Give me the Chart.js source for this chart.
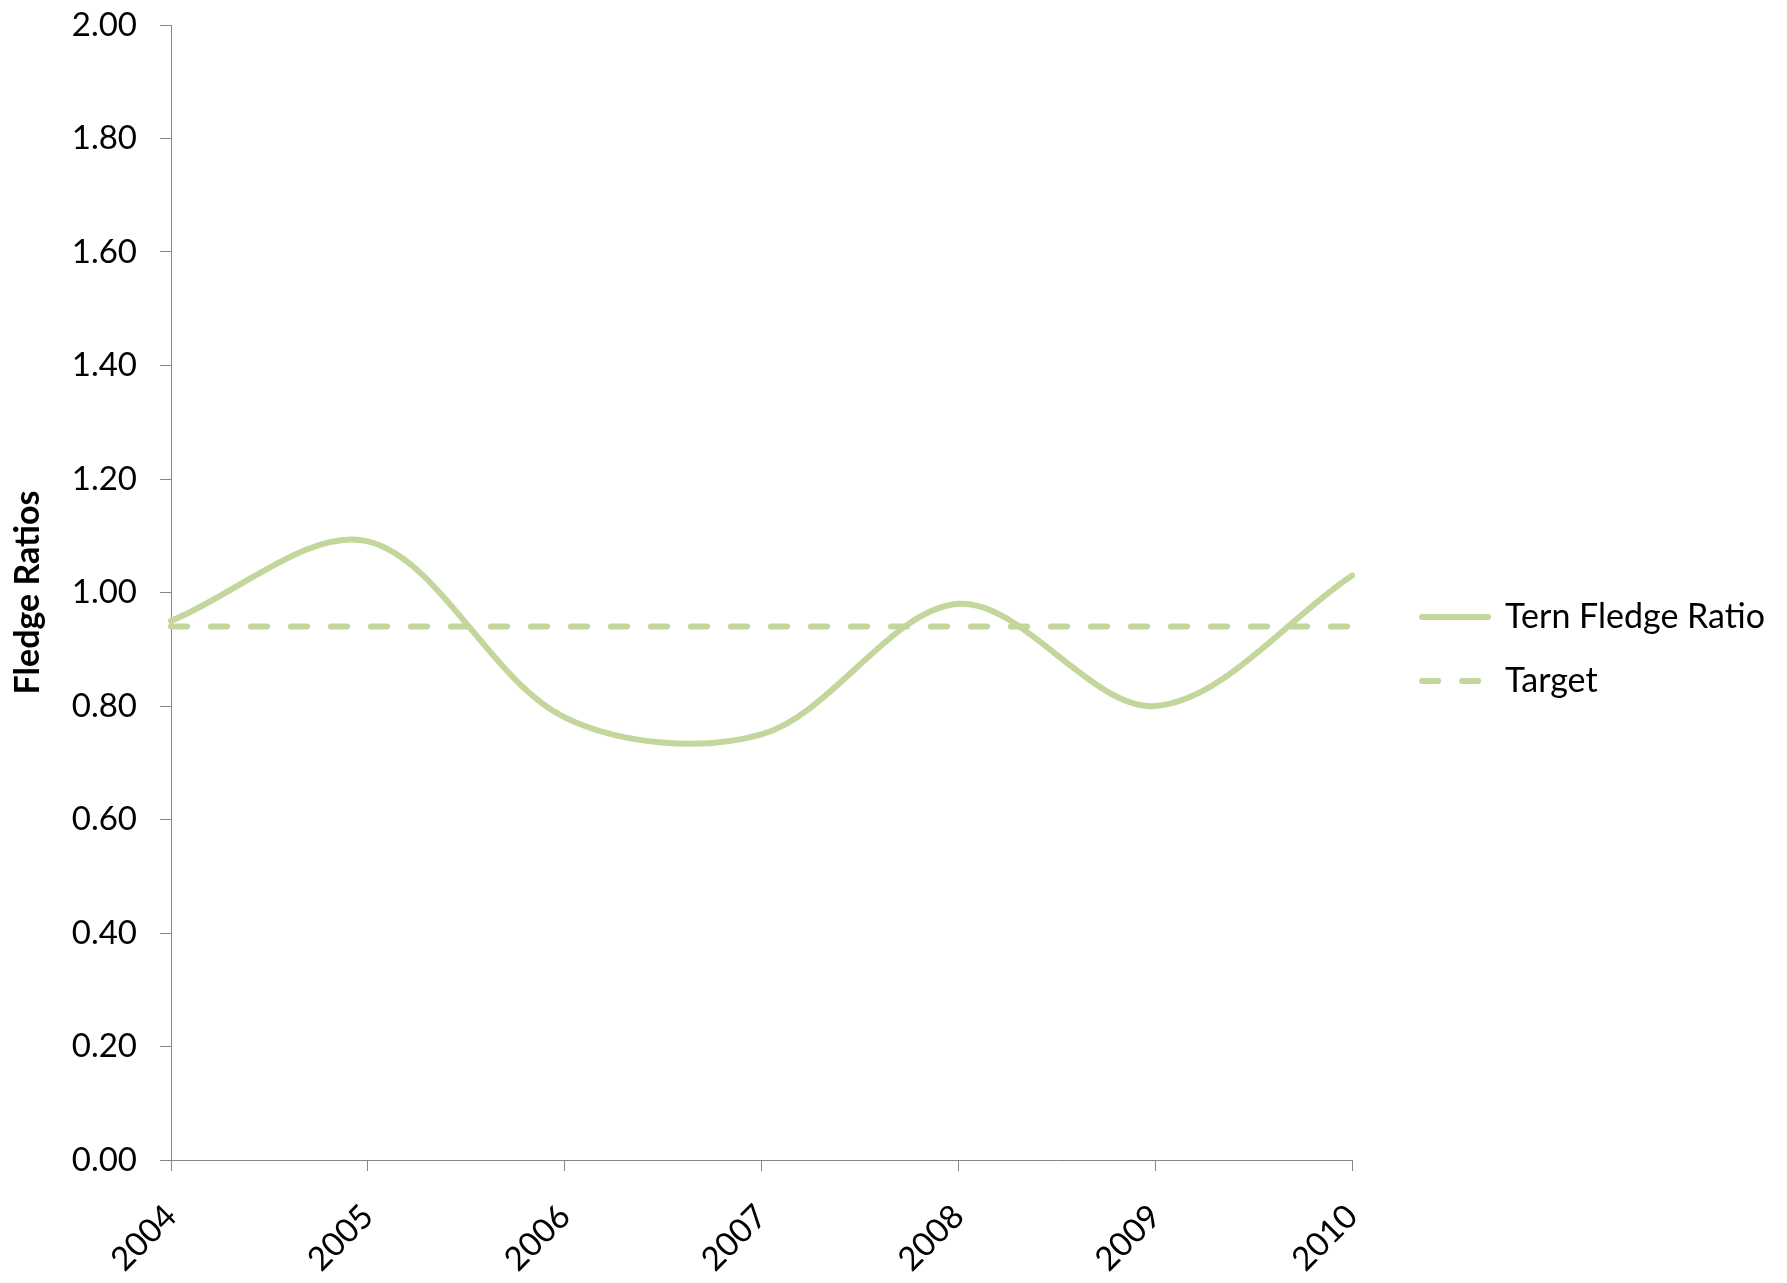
<!DOCTYPE html>
<html>
<head>
<meta charset="utf-8">
<title>Fledge Ratios</title>
<script src="https://cdn.jsdelivr.net/npm/chart.js@4"></script>
<style>
  html, body { margin: 0; padding: 0; background: #fff; }
  #wrap { width: 1787px; height: 1283px; }
</style>
</head>
<body>
<div id="wrap"><canvas id="fledgeChart"></canvas></div>
<script>
const years = ['2004', '2005', '2006', '2007', '2008', '2009', '2010'];
const ternFledgeRatio = [0.95, 1.09, 0.78, 0.75, 0.98, 0.80, 1.03];
const target = [0.94, 0.94, 0.94, 0.94, 0.94, 0.94, 0.94];

const green = '#c3d69b';
const axisGrey = '#868686';
const fontFamily = 'Lato, "Open Sans", sans-serif';

Chart.defaults.font.family = fontFamily;
Chart.defaults.color = '#000';

// legend samples drawn as short lines, dashed for the target
function lineLegendLabels(chart) {
    const items = Chart.defaults.plugins.legend.labels.generateLabels(chart);
    items.forEach((item, i) => {
        const ds = chart.data.datasets[i];
        item.strokeStyle = ds.borderColor;
        item.lineWidth = ds.borderWidth;
        item.lineDash = ds.borderDash || [];
        item.lineCap = 'round';
    });
    return items;
}

const ctx = document.getElementById('fledgeChart').getContext('2d');
new Chart(ctx, {
    type: 'line',
    data: {
        labels: years,
        datasets: [{
            label: 'Tern Fledge Ratio',
            data: ternFledgeRatio,
            borderColor: green,
            backgroundColor: green,
            borderWidth: 6,
            borderCapStyle: 'round',
            tension: 0.33,
            pointRadius: 0,
            fill: false
        }, {
            label: 'Target',
            data: target,
            borderColor: green,
            backgroundColor: green,
            borderWidth: 6,
            borderCapStyle: 'round',
            borderDash: [16, 24],
            pointRadius: 0,
            fill: false
        }]
    },
    options: {
        responsive: true,
        maintainAspectRatio: false,
        animation: false,
        layout: {
            padding: { top: 25, left: 0, right: 12, bottom: 10 }
        },
        plugins: {
            legend: {
                position: 'right',
                align: 'center',
                maxWidth: 500,
                labels: {
                    usePointStyle: true,
                    pointStyle: 'line',
                    pointStyleWidth: 66,
                    padding: 30,
                    color: '#000',
                    font: { size: 34 },
                    generateLabels: lineLegendLabels
                }
            },
            tooltip: { enabled: false }
        },
        scales: {
            x: {
                grid: {
                    drawOnChartArea: false,
                    tickLength: 11,
                    color: axisGrey
                },
                border: { color: axisGrey },
                ticks: {
                    autoSkip: false,
                    maxRotation: 45,
                    minRotation: 45,
                    padding: 26,
                    font: { size: 33 }
                },
                afterFit: function(scale) {
                    scale.height = 113;
                }
            },
            y: {
                min: 0,
                max: 2,
                grid: {
                    drawOnChartArea: false,
                    tickLength: 11,
                    color: axisGrey
                },
                border: { color: axisGrey },
                ticks: {
                    stepSize: 0.2,
                    padding: 23,
                    font: { size: 33 },
                    callback: function(value) {
                        return value.toFixed(2);
                    }
                },
                title: {
                    display: true,
                    text: 'Fledge Ratios',
                    font: { size: 34, weight: 'bold' },
                    padding: { top: 8, bottom: 0 }
                },
                afterFit: function(scale) {
                    scale.width = 171;
                    scale.paddingTop = 0;
                    scale.paddingBottom = 0;
                }
            },
            // empty spacer between the plot and the legend
            gap: {
                position: 'right',
                display: true,
                grid: { display: false },
                border: { display: false },
                ticks: { display: false },
                afterFit: function(scale) {
                    scale.width = 40;
                }
            }
        }
    }
});
</script>
</body>
</html>
